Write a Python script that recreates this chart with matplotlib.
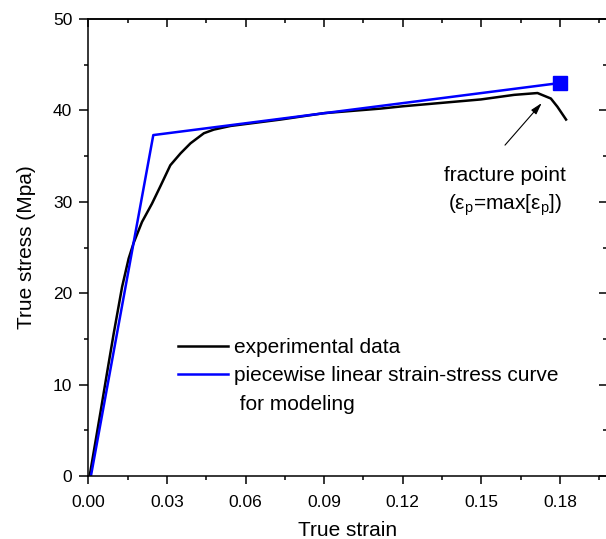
import matplotlib
matplotlib.use("Agg")
import matplotlib.pyplot as plt
from matplotlib.ticker import MultipleLocator

plt.rcParams['font.family'] = ['Liberation Sans', 'DejaVu Sans']
plt.rcParams['mathtext.fontset'] = 'custom'
plt.rcParams['mathtext.rm'] = 'Liberation Sans'
plt.rcParams['mathtext.it'] = 'Liberation Sans'

exp_strain = [0.0005, 0.0046, 0.0071, 0.0097, 0.0129, 0.0154, 0.0173, 0.0205,
              0.0243, 0.0275, 0.0313, 0.0352, 0.0390, 0.0441, 0.0479, 0.0543,
              0.0734, 0.0900, 0.1116, 0.1200, 0.1498, 0.1625, 0.1714, 0.1765,
              0.1790, 0.1823]
exp_stress = [0.0, 6.9, 11.2, 15.6, 20.7, 23.8, 25.5, 27.8,
              29.8, 31.7, 34.0, 35.3, 36.4, 37.5, 37.9, 38.3,
              39.0, 39.7, 40.2, 40.45, 41.2, 41.7, 41.9, 41.3,
              40.4, 39.0]

# piecewise linear model
pw_strain = [0.001, 0.0248, 0.18]
pw_stress = [0.0, 37.3, 43.0]

# fracture point
frac_strain = [0.18]
frac_stress = [43.0]

x_ticks = [0.00, 0.03, 0.06, 0.09, 0.12, 0.15, 0.18]
x_tick_labels = ['0.00', '0.03', '0.06', '0.09', '0.12', '0.15', '0.18']
y_ticks = [0, 10, 20, 30, 40, 50]

W, H = 606, 539
fig = plt.figure(figsize=(W / 100, H / 100), dpi=100)
left, right, top, bottom = 88.3, 607.2, 19, 476
ax = fig.add_axes([left / W, 1 - bottom / H, (right - left) / W, (bottom - top) / H])

ax.plot(exp_strain, exp_stress, color='black', lw=1.8, label='experimental data')
ax.plot(pw_strain, pw_stress, color='#0000ff', lw=1.8,
        label='piecewise linear strain-stress curve')
ax.plot([], [], color='none', label=' for modeling')
ax.plot(frac_strain, frac_stress, marker='s', color='#0000ff', ms=10, ls='none')

ax.set_xlim(0, 0.198)
ax.set_ylim(0, 50)
ax.set_xticks(x_ticks)
ax.set_xticklabels(x_tick_labels)
ax.set_yticks(y_ticks)
ax.xaxis.set_minor_locator(MultipleLocator(0.015))
ax.yaxis.set_minor_locator(MultipleLocator(5))

for s in ax.spines.values():
    s.set_linewidth(1.1)

ax.tick_params(which='both', direction='out', labelsize=12.5, width=1.1,
               top=False, right=False)
ax.tick_params(axis='x', which='major', length=6, pad=7.5)
ax.tick_params(axis='y', which='major', length=6.5, pad=5)
ax.tick_params(which='minor', length=3)

# mirrored inward ticks on top / right
ax_top = ax.secondary_xaxis('top')
ax_top.set_xticks(x_ticks)
ax_top.xaxis.set_minor_locator(MultipleLocator(0.015))
ax_top.tick_params(which='both', direction='in', labeltop=False, width=1.1)
ax_top.tick_params(which='major', length=6)
ax_top.tick_params(which='minor', length=3)
ax_top.spines['top'].set_linewidth(1.1)
ax_right = ax.secondary_yaxis('right')
ax_right.set_yticks(y_ticks)
ax_right.yaxis.set_minor_locator(MultipleLocator(5))
ax_right.tick_params(which='both', direction='in', labelright=False, width=1.1)
ax_right.tick_params(which='major', length=6)
ax_right.tick_params(which='minor', length=3)

ax.set_xlabel('True strain', fontsize=15, labelpad=8)
ax.set_ylabel('True stress (Mpa)', fontsize=15, labelpad=12)

leg = ax.legend(loc='upper left', bbox_to_anchor=(178 / W, 1 - 338 / H),
                bbox_transform=fig.transFigure, frameon=False, fontsize=15,
                handlelength=2.4, handletextpad=0.3, labelspacing=0.45,
                borderpad=0, borderaxespad=0)

ax.annotate('', xy=(0.173, 40.8), xytext=(0.159, 36.2),
            arrowprops=dict(arrowstyle='-|>,head_width=0.2,head_length=0.7',
                            lw=0.8, color='black', shrinkA=0, shrinkB=0))
ax.text(0.159, 32.9, 'fracture point', fontsize=15, ha='center', va='center')
ax.text(0.159, 29.6, r'($\mathrm{ε}_\mathrm{p}$=max[$\mathrm{ε}_\mathrm{p}$])',
        fontsize=15, ha='center', va='center')

fig.savefig('out.png', dpi=100)
